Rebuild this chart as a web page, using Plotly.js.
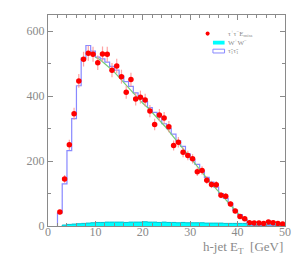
<!DOCTYPE html>
<html>
<head>
<meta charset="utf-8">
<script src="https://cdn.plot.ly/plotly-3.0.1.min.js"></script>
<style>html,body{margin:0;padding:0;background:#fff;}#chart{width:302px;height:256px;}</style>
</head>
<body>
<div id="chart"></div>
<script>
// Data points (tau+ tau- E_miss), bin centres in GeV
const dataX = [2.5,3.5,4.5,5.5,6.5,7.5,8.5,9.5,10.5,11.5,12.5,13.5,14.5,15.5,16.5,17.5,18.5,19.5,20.5,21.5,22.5,23.5,24.5,25.5,26.5,27.5,28.5,29.5,30.5,31.5,32.5,33.5,34.5,35.5,36.5,37.5,38.5,39.5,40.5,41.5,42.5,43.5,44.5,45.5,46.5,47.5,48.5,49.5];
const dataY = [43,145,250,346,447,514,532,529,503,530,529,480,493,460,412,451,391,397,388,354,313,342,333,306,248,258,227,217,207,167,171,141,128,127,95,92,68,46,29,22,10,9,9,8,12,10,8,6];

// Stau-stau histogram (bin left edges 2..49, width 1)
const stauEdges = [2,3,4,5,6,7,8,9,10,11,12,13,14,15,16,17,18,19,20,21,22,23,24,25,26,27,28,29,30,31,32,33,34,35,36,37,38,39,40,41,42,43,44,45,46,47,48,49];
const stauY = [40,130,232,331,432,517,556,539,520,515,505,492,480,462,445,430,410,395,383,365,350,335,315,300,283,262,245,222,205,190,170,150,135,120,100,85,70,48,35,20,5,3,3,3,3,3,3,3];

// W+W- background histogram (bin left edges 3..49)
const wwEdges = [3,4,5,6,7,8,9,10,11,12,13,14,15,16,17,18,19,20,21,22,23,24,25,26,27,28,29,30,31,32,33,34,35,36,37,38,39,40,41,42,43,44,45,46,47,48,49];
const wwY = [3,5,6,7,8,9,10,11,11,12,12,12,12,11,12,12,12,13,12,12,11,12,11,11,10,11,10,10,10,10,9,9,9,9,8,8,8,8,8,7,7,7,6,6,6,6,5];

// Green curve
const greenX = [10,11,12,13,14,15,16,17,18,19,20,21,22,23,24,25,26,27,28,29,30,31,32,33,34,35,36,37,38,39,40,41,42];
const greenY = [520,512,500,488,474,458,442,425,408,392,378,365,350,335,318,302,283,265,246,228,208,190,172,155,138,122,105,88,72,55,40,27,16];

function histXY(edges, vals) {
  const x = [edges[0]], y = [0];
  for (let i = 0; i < edges.length; i++) { x.push(edges[i]); y.push(vals[i]); }
  x.push(edges[edges.length-1] + 1); y.push(vals[vals.length-1]);
  return {x, y};
}
const st = histXY(stauEdges, stauY);
const ww = histXY(wwEdges, wwY);

const traces = [
  {x: ww.x, y: ww.y, type:'scatter', mode:'lines', line:{shape:'hv', color:'#00c0d0', width:1},
   fill:'tozeroy', fillcolor:'#00ffff', showlegend:false, hoverinfo:'skip'},
  {x: st.x, y: st.y, type:'scatter', mode:'lines', line:{shape:'hv', color:'#8888ff', width:1.2}, showlegend:false},
  {x: greenX, y: greenY, type:'scatter', mode:'lines', line:{color:'#77cc77', width:1.2}, showlegend:false},
  {x: dataX, y: dataY, type:'scatter', mode:'markers',
   marker:{color:'#ff0000', size:5.5},
   error_y:{type:'data', array: dataY.map(v=>Math.sqrt(v)), color:'rgba(255,140,140,0.8)', thickness:1.2, width:0},
   showlegend:false}
];

const gray = '#8a8a8a';
const tickFont = {family:'Liberation Serif, DejaVu Serif, serif', size:12, color:gray};
const layout = {
  width:302, height:256,
  margin:{l:48, r:17, t:15, b:30},
  paper_bgcolor:'#fff', plot_bgcolor:'#fff',
  showlegend:false,
  xaxis:{range:[0,50], dtick:10, ticks:'inside', ticklen:5, tickcolor:gray, showline:true, linecolor:gray, linewidth:1,
         mirror:'allticks', showgrid:false, zeroline:false, tickfont:tickFont, ticklabelstandoff:-5,
         minor:{dtick:2, ticks:'inside', ticklen:3, tickcolor:gray}},
  yaxis:{range:[0,650], dtick:200, ticks:'inside', ticklen:5, tickcolor:gray, showline:true, linecolor:gray, linewidth:1,
         mirror:'allticks', showgrid:false, zeroline:false, tickfont:tickFont,
         minor:{dtick:100, ticks:'inside', ticklen:3, tickcolor:gray}},
  annotations:[
    {xref:'paper', yref:'paper', x:1.0, y:-0.104, xanchor:'right', yanchor:'middle', showarrow:false,
     text:'h-jet E<sub>T</sub>  [GeV]', font:{family:'Liberation Serif, DejaVu Serif, serif', size:13, color:gray}},
    {xref:'paper', yref:'paper', x:0.752, y:0.911, xanchor:'left', yanchor:'middle', showarrow:false,
     text:'τ<sup>+</sup>τ<sup>−</sup>E<sub>miss</sub>', font:{family:'Liberation Serif, serif', size:7, color:gray}},
    {xref:'paper', yref:'paper', x:0.752, y:0.869, xanchor:'left', yanchor:'middle', showarrow:false,
     text:'W<sup>+</sup>W<sup>−</sup>', font:{family:'Liberation Serif, serif', size:7, color:gray}},
    {xref:'paper', yref:'paper', x:0.752, y:0.829, xanchor:'left', yanchor:'middle', showarrow:false,
     text:'τ̃<sub>1</sub>τ̃<sub>1</sub>', font:{family:'Liberation Serif, serif', size:7, color:gray}}
  ],
  shapes:[
    {type:'circle', xref:'paper', yref:'paper', x0:0.665, x1:0.682, y0:0.902, y1:0.922, fillcolor:'#ff0000', line:{width:0}},
    {type:'rect', xref:'paper', yref:'paper', x0:0.696, x1:0.745, y0:0.860, y1:0.878, fillcolor:'#00ffff', line:{width:0}},
    {type:'rect', xref:'paper', yref:'paper', x0:0.696, x1:0.745, y0:0.820, y1:0.838, fillcolor:'rgba(0,0,0,0)', line:{color:'#8888ff', width:1}}
  ]
};
Plotly.newPlot('chart', traces, layout, {displayModeBar:false, staticPlot:true});
</script>
</body>
</html>
